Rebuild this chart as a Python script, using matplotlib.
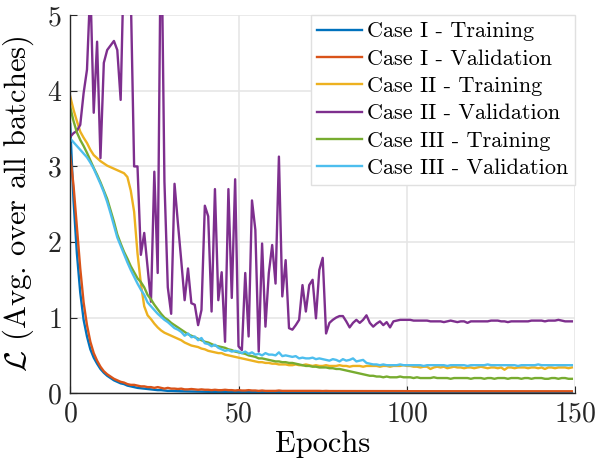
import matplotlib
matplotlib.use("Agg")
import matplotlib.pyplot as plt
import numpy as np

plt.rcParams['font.family'] = 'cmr10'
plt.rcParams['mathtext.fontset'] = 'cm'
plt.rcParams['axes.formatter.use_mathtext'] = True
plt.rcParams['axes.unicode_minus'] = False

# loss per epoch
case1_train = [
    3.56, 2.55, 1.85, 1.33, 0.97, 0.75, 0.58, 0.47, 0.39, 0.32,
    0.27, 0.23, 0.20, 0.17, 0.15, 0.13, 0.12, 0.10, 0.09, 0.08,
    0.07, 0.065, 0.06, 0.055, 0.05, 0.045, 0.04, 0.04, 0.035, 0.03,
    0.03, 0.028, 0.026, 0.025, 0.024, 0.022, 0.021, 0.02, 0.02, 0.019,
    0.018, 0.018, 0.017, 0.017, 0.016, 0.016, 0.016, 0.015, 0.015, 0.015,
    0.014, 0.014, 0.014, 0.014, 0.013, 0.013, 0.013, 0.013, 0.013, 0.012,
    0.012, 0.012, 0.012, 0.012, 0.012, 0.012, 0.012, 0.012, 0.012, 0.012,
    0.012, 0.011, 0.011, 0.011, 0.011, 0.011, 0.011, 0.011, 0.011, 0.011,
    0.011, 0.011, 0.011, 0.011, 0.011, 0.011, 0.011, 0.011, 0.011, 0.011,
    0.010, 0.010, 0.010, 0.010, 0.010, 0.010, 0.010, 0.010, 0.010, 0.010,
    0.010, 0.010, 0.010, 0.010, 0.010, 0.010, 0.010, 0.010, 0.010, 0.010,
    0.010, 0.010, 0.010, 0.010, 0.010, 0.010, 0.010, 0.010, 0.010, 0.010,
    0.010, 0.010, 0.010, 0.010, 0.010, 0.010, 0.010, 0.010, 0.010, 0.010,
    0.010, 0.010, 0.010, 0.010, 0.010, 0.010, 0.010, 0.010, 0.010, 0.010,
    0.010, 0.010, 0.010, 0.010, 0.010, 0.010, 0.010, 0.010, 0.010, 0.010,
]
case1_val = [
    3.15, 2.75, 2.20, 1.65, 1.20, 0.90, 0.68, 0.53, 0.43, 0.35,
    0.29, 0.25, 0.22, 0.19, 0.17, 0.15, 0.14, 0.12, 0.11, 0.11,
    0.10, 0.09, 0.09, 0.08, 0.08, 0.07, 0.08, 0.07, 0.06, 0.07,
    0.06, 0.06, 0.055, 0.06, 0.05, 0.05, 0.055, 0.05, 0.045, 0.05,
    0.045, 0.045, 0.04, 0.045, 0.04, 0.04, 0.045, 0.04, 0.04, 0.035,
    0.04, 0.035, 0.035, 0.04, 0.035, 0.035, 0.03, 0.035, 0.03, 0.03,
    0.03, 0.03, 0.035, 0.03, 0.03, 0.03, 0.03, 0.03, 0.03, 0.03,
    0.03, 0.03, 0.03, 0.03, 0.03, 0.028, 0.03, 0.028, 0.028, 0.028,
    0.028, 0.028, 0.028, 0.028, 0.028, 0.028, 0.028, 0.028, 0.028, 0.028,
    0.027, 0.027, 0.027, 0.027, 0.027, 0.027, 0.027, 0.027, 0.027, 0.027,
    0.026, 0.026, 0.026, 0.026, 0.026, 0.026, 0.026, 0.026, 0.026, 0.026,
    0.026, 0.026, 0.026, 0.026, 0.026, 0.026, 0.026, 0.026, 0.026, 0.026,
    0.025, 0.025, 0.025, 0.025, 0.025, 0.025, 0.025, 0.025, 0.025, 0.025,
    0.025, 0.025, 0.025, 0.025, 0.025, 0.025, 0.025, 0.025, 0.025, 0.025,
    0.025, 0.025, 0.025, 0.025, 0.025, 0.025, 0.025, 0.025, 0.025, 0.025,
]
case2_train = [
    3.93, 3.75, 3.60, 3.46, 3.38, 3.31, 3.22, 3.15, 3.11, 3.07,
    3.04, 3.01, 2.99, 2.97, 2.95, 2.93, 2.91, 2.86, 2.68, 2.40,
    1.85, 1.45, 1.15, 1.03, 0.98, 0.92, 0.87, 0.83, 0.80, 0.78,
    0.76, 0.74, 0.72, 0.70, 0.67, 0.65, 0.63, 0.62, 0.61, 0.59,
    0.58, 0.56, 0.55, 0.54, 0.53, 0.53, 0.51, 0.50, 0.49, 0.48,
    0.47, 0.46, 0.45, 0.44, 0.43, 0.42, 0.41, 0.41, 0.40, 0.40,
    0.39, 0.39, 0.38, 0.38, 0.38, 0.37, 0.37, 0.38, 0.37, 0.37,
    0.38, 0.37, 0.36, 0.37, 0.36, 0.36, 0.37, 0.36, 0.36, 0.36,
    0.37, 0.36, 0.36, 0.35, 0.36, 0.36, 0.36, 0.35, 0.36, 0.36,
    0.36, 0.36, 0.35, 0.36, 0.36, 0.35, 0.36, 0.36, 0.36, 0.37,
    0.36, 0.36, 0.35, 0.35, 0.34, 0.35, 0.35, 0.32, 0.34, 0.35,
    0.34, 0.35, 0.33, 0.34, 0.35, 0.34, 0.34, 0.33, 0.34, 0.34,
    0.33, 0.34, 0.35, 0.34, 0.33, 0.34, 0.34, 0.33, 0.34, 0.31,
    0.34, 0.34, 0.33, 0.34, 0.34, 0.34, 0.33, 0.34, 0.34, 0.33,
    0.34, 0.32, 0.34, 0.34, 0.33, 0.34, 0.34, 0.34, 0.33, 0.34,
]
case2_val = [
    3.39, 3.44, 3.47, 3.55, 3.97, 4.28, 5.40, 3.71, 4.65, 3.11,
    4.37, 4.54, 4.60, 4.66, 4.54, 3.88, 5.80, 6.00, 5.30, 3.00,
    3.00, 1.83, 2.12, 1.67, 1.21, 2.93, 1.59, 6.50, 2.80, 1.40,
    1.05, 2.77, 2.25, 1.75, 1.23, 1.65, 1.19, 1.17, 0.90, 1.10,
    2.48, 2.34, 1.08, 2.70, 1.23, 1.60, 0.68, 2.70, 1.26, 2.83,
    0.62, 0.57, 1.59, 0.75, 2.55, 2.16, 0.55, 1.98, 0.88, 1.59,
    1.96, 1.45, 3.13, 1.28, 1.76, 0.86, 0.84, 0.90, 0.97, 1.43,
    1.08, 1.43, 1.50, 0.99, 1.63, 1.79, 0.79, 0.93, 0.97, 1.00,
    1.02, 1.02, 0.95, 0.87, 0.93, 0.97, 0.93, 0.97, 1.03, 0.93,
    0.88, 0.92, 0.95, 0.90, 0.94, 0.87, 0.95, 0.96, 0.97, 0.97,
    0.97, 0.97, 0.96, 0.96, 0.96, 0.96, 0.96, 0.95, 0.95, 0.95,
    0.95, 0.94, 0.95, 0.96, 0.95, 0.94, 0.95, 0.95, 0.93, 0.95,
    0.95, 0.95, 0.95, 0.95, 0.95, 0.96, 0.96, 0.96, 0.95, 0.95,
    0.94, 0.95, 0.95, 0.95, 0.95, 0.95, 0.95, 0.96, 0.96, 0.96,
    0.96, 0.95, 0.96, 0.96, 0.96, 0.97, 0.96, 0.95, 0.95, 0.95,
]
case3_train = [
    3.79, 3.60, 3.45, 3.35, 3.27, 3.18, 3.08, 2.98, 2.89, 2.79,
    2.68, 2.57, 2.42, 2.27, 2.10, 1.98, 1.87, 1.78, 1.68, 1.60,
    1.52, 1.47, 1.40, 1.30, 1.24, 1.17, 1.11, 1.05, 1.00, 0.97,
    0.93, 0.90, 0.87, 0.84, 0.81, 0.78, 0.76, 0.74, 0.72, 0.70,
    0.68, 0.67, 0.65, 0.63, 0.62, 0.61, 0.60, 0.58, 0.57, 0.55,
    0.54, 0.53, 0.52, 0.50, 0.49, 0.48, 0.46, 0.46, 0.45, 0.44,
    0.43, 0.42, 0.42, 0.41, 0.41, 0.40, 0.40, 0.39, 0.38, 0.37,
    0.36, 0.36, 0.35, 0.35, 0.34, 0.34, 0.34, 0.33, 0.33, 0.32,
    0.32, 0.31, 0.30, 0.29, 0.28, 0.27, 0.26, 0.25, 0.24, 0.23,
    0.23, 0.22, 0.22, 0.21, 0.22, 0.21, 0.21, 0.21, 0.22, 0.21,
    0.21, 0.21, 0.20, 0.21, 0.20, 0.20, 0.20, 0.20, 0.21, 0.20,
    0.20, 0.20, 0.20, 0.19, 0.20, 0.20, 0.20, 0.20, 0.20, 0.19,
    0.20, 0.20, 0.20, 0.19, 0.20, 0.20, 0.19, 0.20, 0.20, 0.20,
    0.19, 0.20, 0.20, 0.20, 0.19, 0.20, 0.20, 0.19, 0.20, 0.20,
    0.20, 0.19, 0.19, 0.20, 0.20, 0.19, 0.20, 0.20, 0.19, 0.19,
]
case3_val = [
    3.37, 3.32, 3.27, 3.22, 3.17, 3.12, 3.05, 2.97, 2.87, 2.77,
    2.66, 2.53, 2.38, 2.22, 2.06, 1.95, 1.84, 1.73, 1.63, 1.54,
    1.45, 1.37, 1.30, 1.20, 1.15, 1.10, 1.05, 1.01, 0.97, 0.94,
    0.90, 0.86, 0.84, 0.81, 0.76, 0.79, 0.74, 0.75, 0.70, 0.73,
    0.66, 0.65, 0.62, 0.64, 0.60, 0.58, 0.56, 0.57, 0.55, 0.56,
    0.55, 0.53, 0.55, 0.52, 0.54, 0.51, 0.52, 0.50, 0.53, 0.51,
    0.51, 0.50, 0.54, 0.49, 0.50, 0.49, 0.48, 0.49, 0.46, 0.47,
    0.46, 0.46, 0.47, 0.45, 0.46, 0.45, 0.44, 0.43, 0.45, 0.44,
    0.42, 0.45, 0.43, 0.44, 0.46, 0.42, 0.43, 0.44, 0.40, 0.39,
    0.38, 0.38, 0.37, 0.38, 0.37, 0.37, 0.37, 0.37, 0.38, 0.37,
    0.37, 0.37, 0.37, 0.37, 0.37, 0.36, 0.37, 0.37, 0.37, 0.37,
    0.37, 0.37, 0.36, 0.37, 0.37, 0.37, 0.37, 0.37, 0.36, 0.37,
    0.37, 0.37, 0.37, 0.37, 0.38, 0.37, 0.37, 0.37, 0.37, 0.37,
    0.37, 0.37, 0.37, 0.36, 0.37, 0.37, 0.37, 0.37, 0.37, 0.38,
    0.37, 0.37, 0.37, 0.37, 0.37, 0.37, 0.37, 0.37, 0.37, 0.37,
]

series = [case1_train, case1_val, case2_train, case2_val, case3_train, case3_val]
labels = ["Case I - Training", "Case I - Validation", "Case II - Training",
          "Case II - Validation", "Case III - Training", "Case III - Validation"]
colors = ["#0072BD", "#D95319", "#EDB120", "#7E2F8E", "#77AC30", "#4DBEEE"]

fig = plt.figure(figsize=(6.1, 4.62), dpi=100)
ax = fig.add_axes([0.115, 0.149, 0.828, 0.818])

for vals, lab, col in zip(series, labels, colors):
    ax.plot(np.arange(len(vals)), vals, color=col, lw=1.7, label=lab)

ax.set_xlim(0, 150)
ax.set_ylim(0, 5)
ax.set_xticks([0, 50, 100, 150])
ax.set_yticks([0, 1, 2, 3, 4, 5])
ax.grid(True, color="#e6e6e6", lw=1.2)
ax.set_axisbelow(True)
for s in ["top", "right"]:
    ax.spines[s].set_visible(False)
for s in ["left", "bottom"]:
    ax.spines[s].set_color("#262626")
    ax.spines[s].set_linewidth(1.0)
ax.tick_params(direction="in", length=5, labelsize=20, colors="#262626", pad=6)
ax.set_xlabel("Epochs", fontsize=22, labelpad=2)
ax.set_ylabel(r"$\mathcal{L}$ (Avg. over all batches)", fontsize=22, labelpad=8)

leg = ax.legend(loc="upper right", fontsize=16, frameon=True, fancybox=False,
                edgecolor="#e0e0e0", framealpha=1, borderaxespad=0,
                handlelength=2.0, handletextpad=0.25, labelspacing=0.35,
                borderpad=0.3)
leg.get_frame().set_linewidth(1.0)

fig.savefig("out.png", dpi=100)
